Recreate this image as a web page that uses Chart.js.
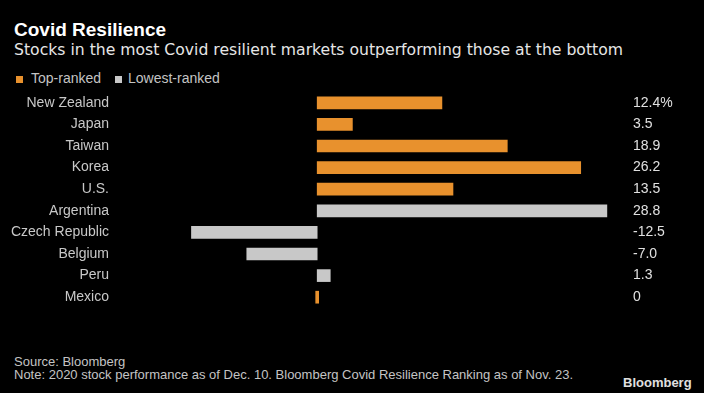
<!DOCTYPE html>
<html>
<head>
<meta charset="utf-8">
<script src="https://cdn.jsdelivr.net/npm/chart.js@4.4.1/dist/chart.umd.min.js"></script>
<style>
  html, body { margin: 0; padding: 0; background: #000; }
  body { width: 704px; height: 393px; position: relative; overflow: hidden; font-family: 'Liberation Sans', Arial, sans-serif; }
  .txt { position: absolute; white-space: nowrap; line-height: 1; }
  #title { left: 14px; top: 20px; font-size: 19px; font-weight: bold; color: #fff; }
  #subtitle { left: 14px; top: 42px; font-size: 15.65px; color: #e6e6e6; font-family: 'DejaVu Sans', sans-serif; }
  .sw { position: absolute; width: 7px; height: 7px; top: 76px; }
  .leg { top: 71px; font-size: 14px; color: #c4c4c4; }
  #source { left: 14px; top: 355px; font-size: 13px; color: #c4c4c4; }
  #note { left: 14px; top: 368px; font-size: 13px; color: #c4c4c4; }
  #logo { left: 623px; top: 376px; font-size: 13px; font-weight: bold; color: #e0e0e0; }
  #wrap { position: absolute; left: 0; top: 92px; width: 704px; height: 216px; }
</style>
</head>
<body>
<div class="txt" id="title">Covid Resilience</div>
<div class="txt" id="subtitle">Stocks in the most Covid resilient markets outperforming those at the bottom</div>
<div class="sw" style="left:16px;background:#e8912d"></div>
<div class="txt leg" style="left:31px">Top-ranked</div>
<div class="sw" style="left:115px;background:#c8c8c8"></div>
<div class="txt leg" style="left:128px">Lowest-ranked</div>
<div id="wrap"><canvas id="chart"></canvas></div>
<div class="txt" id="source">Source: Bloomberg</div>
<div class="txt" id="note">Note: 2020 stock performance as of Dec. 10. Bloomberg Covid Resilience Ranking as of Nov. 23.</div>
<div class="txt" id="logo">Bloomberg</div>
<script>
const markets = ['New Zealand', 'Japan', 'Taiwan', 'Korea', 'U.S.', 'Argentina', 'Czech Republic', 'Belgium', 'Peru', 'Mexico'];
const returns = [12.4, 3.5, 18.9, 26.2, 13.5, 28.8, -12.5, -7.0, 1.3, 0];
const valueLabels = ['12.4%', '3.5', '18.9', '26.2', '13.5', '28.8', '-12.5', '-7.0', '1.3', '0'];
const groups = ['top', 'top', 'top', 'top', 'top', 'low', 'low', 'low', 'low', 'top'];

const ORANGE = '#e8912d';
const GREY = '#c8c8c8';

// keep the category axes from adding label padding above/below the plot
function fixWidth(w) {
  return (s) => {
    s.width = w;
    s.paddingTop = 0;
    s.paddingBottom = 0;
  };
}

new Chart(document.getElementById('chart'), {
  type: 'bar',
  data: {
    labels: markets,
    datasets: [{
      data: returns,
      backgroundColor: groups.map((g) => (g === 'top' ? ORANGE : GREY)),
      barThickness: 12,
      minBarLength: 3,
      borderWidth: 0,
    }],
  },
  options: {
    indexAxis: 'y',
    responsive: true,
    maintainAspectRatio: false,
    animation: false,
    layout: { padding: 0 },
    plugins: { legend: { display: false }, tooltip: { enabled: false } },
    scales: {
      x: { display: false, min: -20.4, max: 31 },
      y: {
        grid: { display: false, drawTicks: false },
        border: { display: false },
        ticks: { color: '#c8c8c8', padding: 3, font: { family: 'Liberation Sans', size: 14 } },
        afterFit: fixWidth(112),
      },
      y2: {
        type: 'category',
        labels: valueLabels,
        position: 'right',
        offset: true,
        grid: { display: false, drawTicks: false },
        border: { display: false },
        ticks: { color: '#e0e0e0', padding: 4, font: { family: 'Liberation Sans', size: 14 } },
        afterFit: fixWidth(75),
      },
    },
  },
});
</script>
</body>
</html>
